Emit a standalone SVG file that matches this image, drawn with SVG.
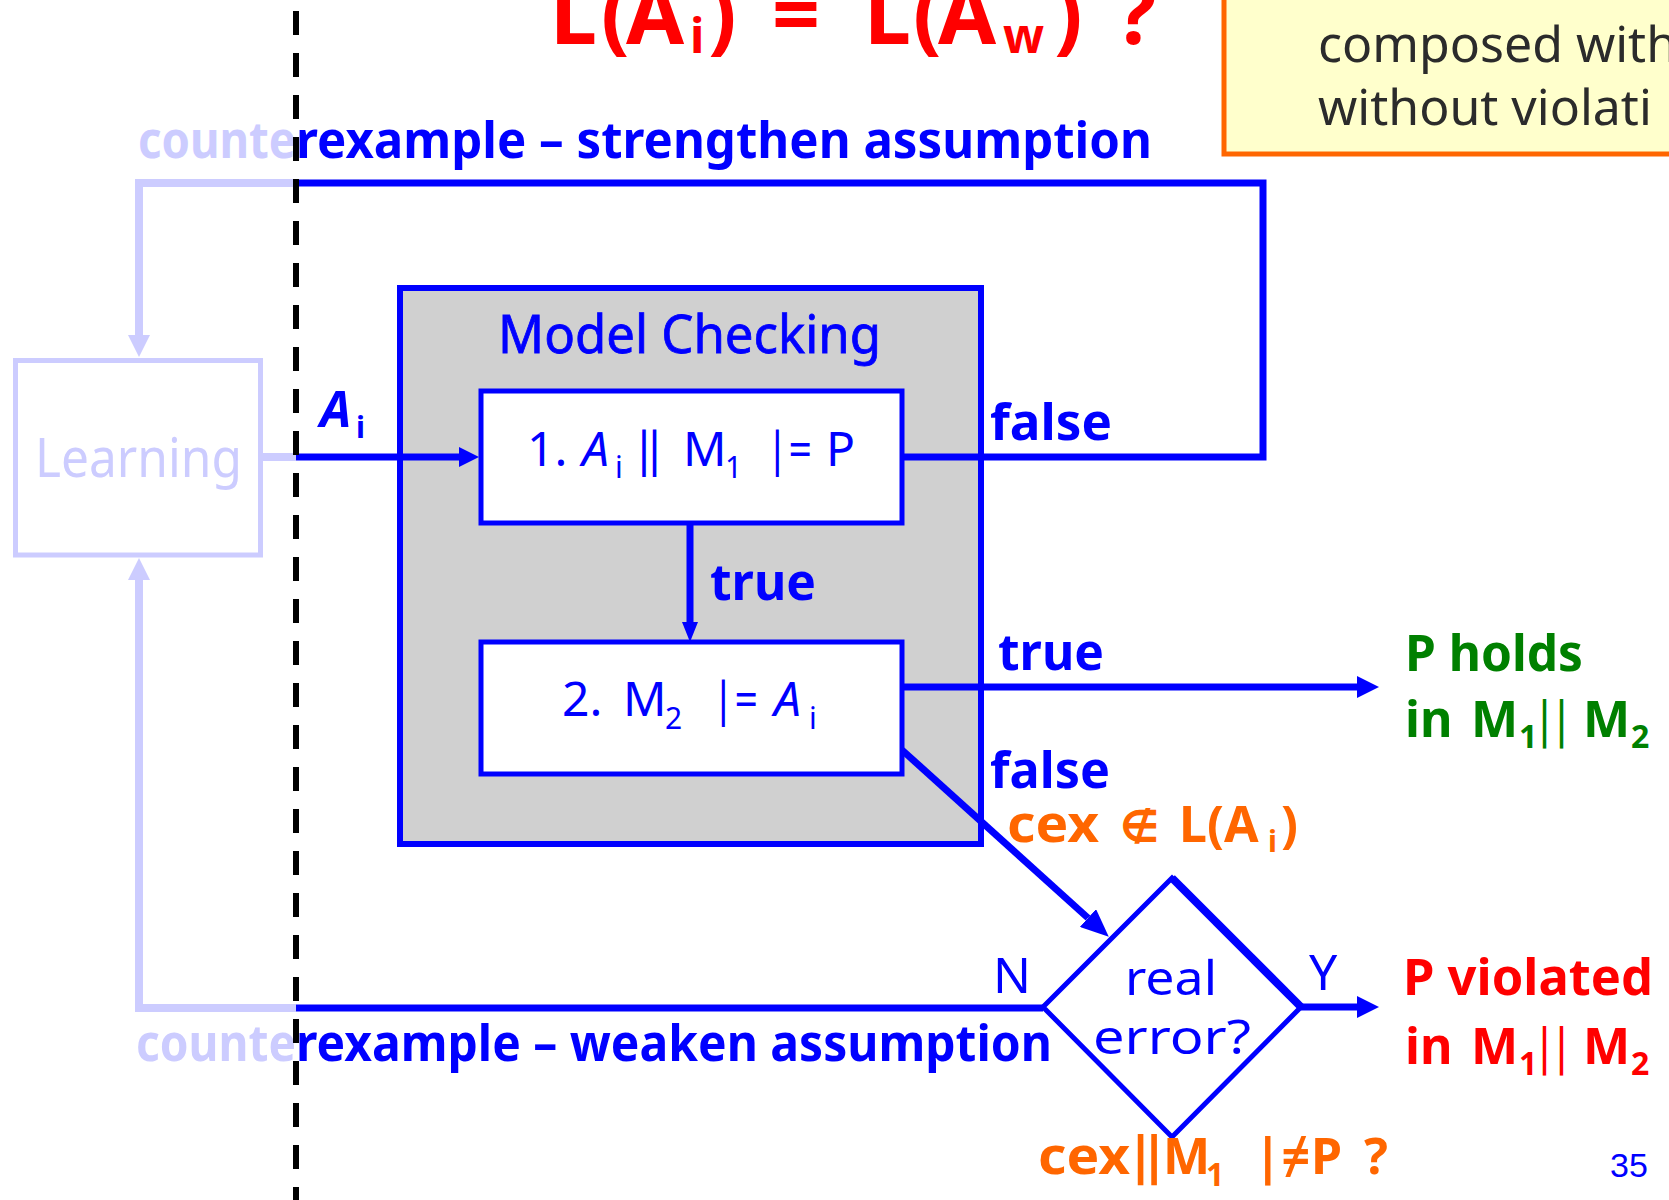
<svg xmlns="http://www.w3.org/2000/svg" width="1669" height="1200" viewBox="0 0 1669 1200">
<style>
text { font-family: "Noto Sans", "DejaVu Sans", sans-serif; }
.blue { fill: #0000ff; }
.light { fill: #ccccff; }
.b { font-weight: bold; }
.orange { fill: #ff6600; font-weight: bold; }
.green { fill: #008000; font-weight: bold; }
.red { fill: #ff0000; font-weight: bold; }
.ln { fill: none; stroke: #0000ff; stroke-width: 7; }
.lt { fill: none; stroke: #ccccff; stroke-width: 8; }
.box { fill: #ffffff; stroke: #0000ff; stroke-width: 5; }
</style>
<defs>
<marker id="ab" viewBox="0 0 20 20" markerUnits="userSpaceOnUse" markerWidth="20" markerHeight="20" refX="0" refY="10" orient="auto"><path d="M0,0 L20,10 L0,20 z" fill="#0000ff"/></marker>
<marker id="abs" viewBox="0 0 20 16" markerUnits="userSpaceOnUse" markerWidth="20" markerHeight="16" refX="0" refY="8" orient="auto"><path d="M0,0 L20,8 L0,16 z" fill="#0000ff"/></marker>
<marker id="abm" viewBox="0 0 22 22" markerUnits="userSpaceOnUse" markerWidth="22" markerHeight="22" refX="0" refY="11" orient="auto"><path d="M0,0 L22,11 L0,22 z" fill="#0000ff"/></marker>
<marker id="abl" viewBox="0 0 28 24" markerUnits="userSpaceOnUse" markerWidth="28" markerHeight="24" refX="0" refY="12" orient="auto"><path d="M0,0 L28,12 L0,24 z" fill="#0000ff"/></marker>
<marker id="al" viewBox="0 0 22 22" markerUnits="userSpaceOnUse" markerWidth="22" markerHeight="22" refX="0" refY="11" orient="auto"><path d="M0,0 L22,11 L0,22 z" fill="#ccccff"/></marker>
</defs>
<rect width="1669" height="1200" fill="#ffffff"/>

<g id="title">
<text class="red" font-size="84" x="550" y="44">L</text>
<text class="red" font-size="84" x="601" y="44">(</text>
<text class="red" font-size="84" x="626" y="44">A</text>
<text class="red" font-size="48" x="690" y="53">i</text>
<text class="red" font-size="84" x="708" y="44">)</text>
<text class="red" font-size="84" x="772" y="44">=</text>
<text class="red" font-size="84" x="864" y="44">L</text>
<text class="red" font-size="84" x="913" y="44">(</text>
<text class="red" font-size="84" x="938" y="44">A</text>
<text class="red" font-size="48" x="1003" y="53">w</text>
<text class="red" font-size="84" x="1054" y="44">)</text>
<text class="red" font-size="84" x="1116" y="44">?</text>
</g>

<g id="note">
<rect x="1224" y="-10" width="470" height="164" fill="#ffffcc" stroke="#ff6600" stroke-width="5"/>
<text x="1318" y="62" font-size="50" fill="#2b2b2b">composed with</text>
<text x="1318" y="125" font-size="50" fill="#2b2b2b">without violati</text>
</g>

<g id="model-checking">
<rect x="400" y="288" width="581" height="556" fill="#d0d0d0" stroke="#0000ff" stroke-width="6"/>
<text class="blue" x="498" y="353" font-size="52" textLength="383" lengthAdjust="spacingAndGlyphs" stroke="#0000ff" stroke-width="0.8">Model Checking</text>
</g>

<g id="learning">
<rect x="15.5" y="360.5" width="245" height="194.5" fill="#ffffff" stroke="#ccccff" stroke-width="5"/>
<text class="light" x="35" y="477" font-size="54" textLength="207" lengthAdjust="spacingAndGlyphs">Learning</text>
</g>

<g id="connectors">
<polyline class="lt" points="296,183 139,183 139,335" marker-end="url(#al)"/>
<polyline class="lt" points="296,1008 139,1008 139,580" marker-end="url(#al)"/>
<line class="lt" x1="261" y1="457" x2="296" y2="457"/>
<line class="ln" x1="296" y1="457" x2="459" y2="457" marker-end="url(#ab)"/>
<polyline class="ln" stroke-width="8" points="902,457 1263,457 1263,183 296,183"/>
<line class="ln" stroke-width="4" x1="690" y1="523" x2="690" y2="622" marker-end="url(#abs)"/>
<line class="ln" x1="902" y1="687" x2="1357" y2="687" marker-end="url(#abm)"/>
<line class="ln" x1="902" y1="750" x2="1088" y2="918" marker-end="url(#abl)"/>
<line class="ln" x1="1043" y1="1008" x2="296" y2="1008"/>
<line class="ln" x1="1301" y1="1007" x2="1357" y2="1007" marker-end="url(#abm)"/>
</g>

<g id="check1">
<rect class="box" x="481" y="391" width="421" height="132"/>
<text class="blue" font-size="48" y="466"><tspan x="527">1.</tspan><tspan x="582" font-style="italic">A</tspan></text>
<text class="blue" font-size="30" x="615" y="478">i</text>
<text class="blue" font-size="48" x="636" y="466">‖</text>
<text class="blue" font-size="48" x="683" y="466">M</text>
<text class="blue" font-size="30" x="725" y="478">1</text>
<text class="blue" font-size="48" x="766" y="466" textLength="46" lengthAdjust="spacingAndGlyphs">|=</text>
<text class="blue" font-size="48" x="826" y="466">P</text>
</g>

<g id="check2">
<rect class="box" x="481" y="642" width="421" height="132"/>
<text class="blue" font-size="48" x="562" y="716">2.</text>
<text class="blue" font-size="48" x="623" y="716">M</text>
<text class="blue" font-size="30" x="665" y="729">2</text>
<text class="blue" font-size="48" x="712" y="716" textLength="46" lengthAdjust="spacingAndGlyphs">|=</text>
<text class="blue" font-size="48" x="774" y="716" font-style="italic">A</text>
<text class="blue" font-size="30" x="809" y="729">i</text>
</g>

<g id="real-error">
<polygon points="1172,878 1301,1007 1172,1137 1043,1007" fill="#ffffff" stroke="#0000ff" stroke-width="5"/>
<line x1="1172" y1="878" x2="1301" y2="1007" stroke="#0000ff" stroke-width="8"/>
<text class="blue" x="1125" y="995" font-size="48" textLength="92" lengthAdjust="spacingAndGlyphs">real</text>
<text class="blue" x="1093" y="1054" font-size="48" textLength="158" lengthAdjust="spacingAndGlyphs">error?</text>
</g>

<g id="p-holds">
<text class="green" x="1405" y="671" font-size="50" textLength="178" lengthAdjust="spacingAndGlyphs">P holds</text>
<text class="green" font-size="50" y="737"><tspan x="1405">in</tspan><tspan x="1471">M</tspan></text>
<text class="green" font-size="32" x="1519" y="748">1</text>
<text class="green" font-size="50" x="1536" y="737" textLength="34" lengthAdjust="spacingAndGlyphs">||</text>
<text class="green" font-size="50" x="1583" y="737">M</text>
<text class="green" font-size="32" x="1631" y="748">2</text>
</g>

<g id="p-violated">
<text class="red" x="1403" y="995" font-size="50" textLength="250" lengthAdjust="spacingAndGlyphs">P violated</text>
<text class="red" font-size="50" y="1064"><tspan x="1405">in</tspan><tspan x="1471">M</tspan></text>
<text class="red" font-size="32" x="1519" y="1075">1</text>
<text class="red" font-size="50" x="1536" y="1064" textLength="34" lengthAdjust="spacingAndGlyphs">||</text>
<text class="red" font-size="50" x="1583" y="1064">M</text>
<text class="red" font-size="32" x="1631" y="1075">2</text>
</g>

<g id="labels">
<text class="light b" x="138" y="158" font-size="50" textLength="158" lengthAdjust="spacingAndGlyphs">counte</text>
<text class="blue b" x="296" y="158" font-size="50" textLength="856" lengthAdjust="spacingAndGlyphs">rexample – strengthen assumption</text>
<text class="light b" x="136" y="1061" font-size="50" textLength="160" lengthAdjust="spacingAndGlyphs">counte</text>
<text class="blue b" x="296" y="1061" font-size="50" textLength="756" lengthAdjust="spacingAndGlyphs">rexample – weaken assumption</text>
<text class="blue b" x="320" y="427" font-size="50" font-style="italic">A</text>
<text class="blue b" x="356" y="438" font-size="30">i</text>
<text class="blue b" x="990" y="440" font-size="50" textLength="122" lengthAdjust="spacingAndGlyphs">false</text>
<text class="blue b" x="710" y="600" font-size="50" textLength="106" lengthAdjust="spacingAndGlyphs">true</text>
<text class="blue b" x="998" y="670" font-size="50" textLength="106" lengthAdjust="spacingAndGlyphs">true</text>
<text class="blue b" x="990" y="788" font-size="50" textLength="120" lengthAdjust="spacingAndGlyphs">false</text>
<text class="orange" font-size="50" x="1007" y="842" textLength="92" lengthAdjust="spacingAndGlyphs">cex</text>
<text class="orange" font-size="44" x="1120" y="842">∉</text>
<text class="orange" font-size="50" x="1179" y="842">L(A</text>
<text class="orange" font-size="30" x="1268" y="852">i</text>
<text class="orange" font-size="50" x="1281" y="842">)</text>
<text class="blue" x="993" y="993" font-size="50">N</text>
<text class="blue" x="1309" y="990" font-size="50">Y</text>
<text class="orange" font-size="50" x="1038" y="1174" textLength="92" lengthAdjust="spacingAndGlyphs">cex</text>
<text class="orange" font-size="52" x="1133" y="1174">‖</text>
<text class="orange" font-size="50" x="1163" y="1174">M</text>
<text class="orange" font-size="32" x="1206" y="1186">1</text>
<text class="orange" font-size="50" x="1254" y="1174">|≠</text>
<text class="orange" font-size="50" x="1311" y="1174">P</text>
<text class="orange" font-size="50" x="1364" y="1174">?</text>
<text x="1610" y="1177" font-size="34" fill="#0000ff" style="font-family:'Liberation Sans', Arial, sans-serif">35</text>
</g>

<line id="divider" x1="296" y1="-31" x2="296" y2="1200" stroke="#000000" stroke-width="6" stroke-dasharray="24 18"/>
</svg>
